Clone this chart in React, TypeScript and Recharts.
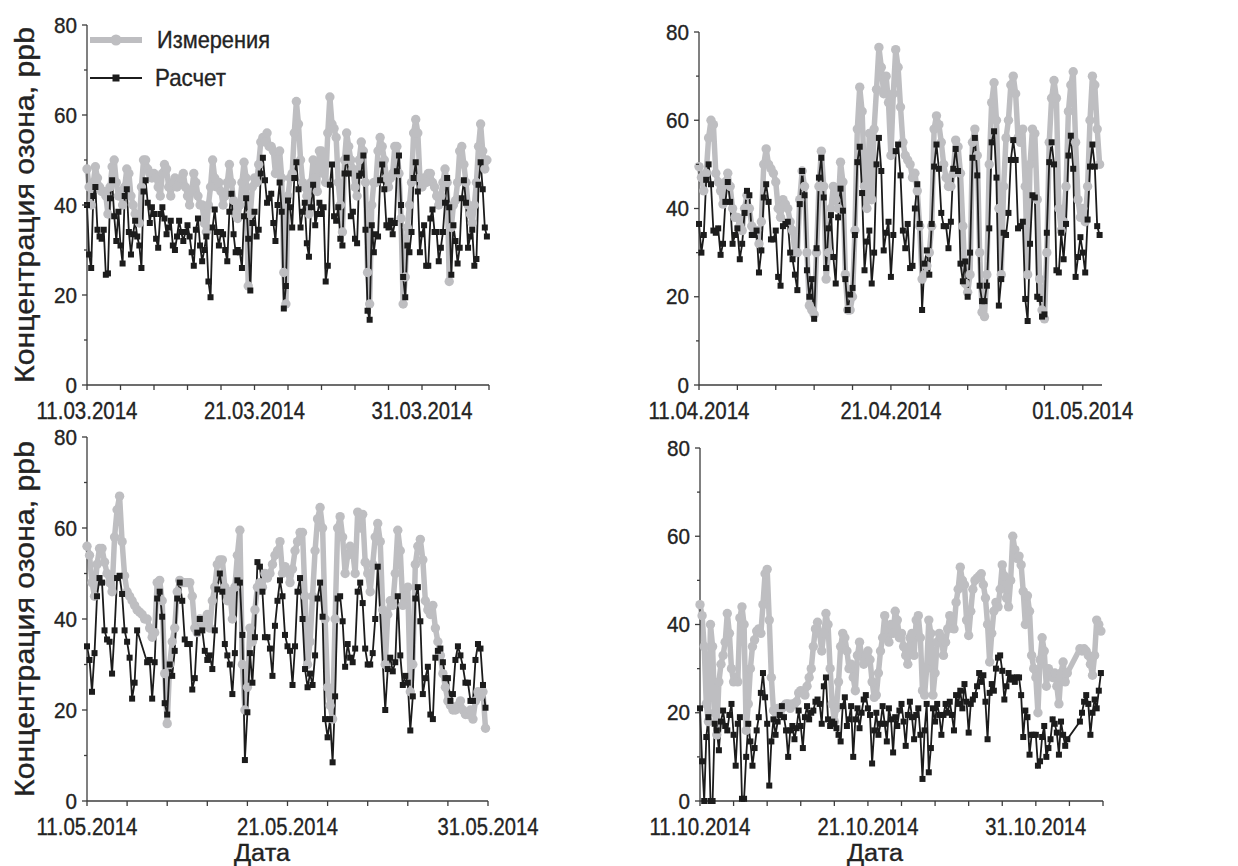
import React from 'react'
import { LineChart, Line, XAxis, YAxis, Legend } from 'recharts'

const FONT = '"Liberation Sans", Arial, Helvetica, sans-serif'
const GREY = '#bebec1'
const BLACK = '#1c1c1c'
const AXIS = '#3c3c3c'
const TEXT = '#232323'

// one value every 3 hours (8 per day)
const STEP = 1 / 8

// ---- 11.03 - 04.04.2014
const marMeasured = [
    48, 44, 40, 45, 48.5, 46, 44, 43,
    43, 42, 38, 44, 48.5, 50, 45, 42,
    43, 40, 44, 48, 47, 42, 40, 38,
    37, 36, 44, 50, 50, 48, 47, 46,
    47, 46, 44, 42, 47, 49, 48, 44,
    42, 45, 46, 44, 45, 46, 47, 44,
    42, 40, 43, 47, 45, 42, 40, 40,
    36, 34, 40, 44, 50, 46, 44, 45,
    43, 40, 42, 45, 49, 45, 41, 38,
    37, 40, 45, 49.5, 46, 22, 38, 44,
    46, 45, 49, 54, 55, 54, 56, 53,
    53, 52, 47, 50, 52, 46, 25, 18,
    42, 46, 47, 56, 63, 58, 50, 45,
    44, 42, 38, 45, 50, 46, 43, 52,
    52, 47, 45, 56, 64, 58, 57, 55,
    45, 40, 34, 50, 56, 53, 50, 48,
    44, 42, 50, 54, 52, 45, 25, 18,
    40, 45, 45, 52, 55, 53, 50, 46,
    44, 46, 47, 53, 53, 47, 37, 18,
    24, 35, 40, 45, 56, 59, 56, 46,
    44, 46, 45, 47, 47, 45, 44, 42,
    40, 42, 45, 48, 45, 23, 35, 40,
    41, 45, 52, 53, 49, 45, 40, 38,
    36, 40, 45, 53, 58, 52, 48, 50,
]
const marCalculated = [
    40, 29, 26, 42, 44, 34.5, 33, 32.5,
    34.5, 24.5, 24.8, 41.5, 45.5, 37.5, 32, 38.5,
    31, 27, 42, 43.5, 34, 29, 33.5, 36.5, 33,
    31, 26, 43, 45.5, 40.5, 36, 39.5, 38,
    32.5, 30.5, 38, 39.5, 37, 33.5, 35, 36.5,
    31, 30, 33, 36.5, 34, 32, 34, 35.5, 33,
    29.5, 26.5, 34.5, 37, 31, 27.5, 30, 33,
    23, 19.5, 35, 39, 34, 31, 34, 33.5,
    30, 27.5, 38.5, 42.5, 33.5, 29.5, 30, 29.5, 26,
    37.5, 41.5, 32.5, 21,
    36, 38.5, 33, 34.5, 47, 50.5, 45.5, 40.5, 41.5, 42.5, 36, 32, 40, 45, 38.5, 17,
    22, 41, 39.5, 35, 46, 49.5, 43.5, 35, 38.5, 40.5, 31.5, 28.5, 39.5, 44.5, 35.5, 38,
    40.5, 38, 39.5, 23, 26.5, 44.5, 49, 37.5, 36.5, 39.5, 32.5, 31, 47, 50.5, 47, 37.5,
    38.5, 32.5, 31.5, 46.5, 47, 51, 34.5, 16.5, 14.5, 35.5, 29.5, 33.5, 33, 45.5, 49, 43.5,
    35.5, 35, 36.5, 33.5, 36, 47.5, 51, 40, 24, 19.5, 31, 29.5, 34, 46, 49.5, 43,
    29.5, 33.5, 35.5, 26.5, 26.5, 37, 39, 34, 34, 27.5, 30.5, 34, 40.5, 46, 39.5, 24.5,
    35.5, 32, 27, 30.5, 41.5, 45.5, 40.5, 30.5, 33, 34.5, 26.5, 28, 44.5, 49.5, 43.5, 35, 33,
]

// ---- 11.04 - 02.05.2014
const aprMeasured = [
    49.5, 47, 44, 48, 56, 60, 59, 48,
    46, 44, 41, 46, 48, 45, 40, 38,
    38, 36, 35, 40, 43, 40, 36, 35,
    35, 32, 37, 50, 53.5, 50, 49, 48,
    46, 40, 38, 42, 41, 40, 37, 35,
    30, 30, 42, 48.5, 45, 30, 18, 17,
    16, 30, 45, 53, 45, 24, 30, 40,
    45, 42, 40, 50.5, 46, 25, 17, 17,
    20, 35, 58, 67.5, 62, 45, 40, 57,
    42, 58, 67, 76.5, 72, 66, 70, 64,
    52, 66, 76, 72, 63, 55, 52, 51,
    50, 47, 48, 44, 36, 24, 25, 27,
    30, 36, 58, 61, 59, 55, 50, 47,
    45, 45, 48, 55.5, 54, 48, 36, 23,
    21, 25, 55, 58, 52, 30, 16.5, 15.5,
    25, 50, 64, 68.5, 60, 40, 25, 45,
    56, 60, 68, 70, 66, 56, 55, 58,
    45, 25, 50, 58, 57, 42, 24, 17,
    15, 30, 55, 65, 69, 65, 40, 35,
    37, 45, 62, 68, 71, 55, 42, 38,
    40, 37, 45, 60, 70, 68, 58, 50,
]
const aprCalculated = [
    36.5, 30, 34, 46.5, 50, 45.5, 35, 34.5,
    35.5, 29.5, 32, 41.5, 46, 41.5, 32, 34,
    35.5, 28.5, 32, 39, 44, 43, 34, 34,
    35, 25.5, 30.5, 42.5, 45.5, 41.5, 33, 33,
    35, 24.5, 22.5, 36, 36.5, 37, 30, 28.5,
    25, 21.5, 41, 48.5, 43, 26, 20, 24,
    15, 31, 47, 51.5, 42.5, 26.5, 35.5, 38.5,
    29, 23, 38, 44.5, 39.5, 24, 17, 20.5,
    22, 34, 50.5, 54, 43.5, 26, 32.5, 35,
    23, 30, 50, 56, 48.5, 30.5, 34.5, 37,
    24.5, 34, 53, 54.5, 47.5, 35, 31, 36.5,
    26.5, 27, 40, 45.5, 36.5, 17, 27.5, 30.5,
    25, 36.5, 49.5, 54.5, 49, 39, 36, 36,
    31, 37, 49, 53.5, 48.5, 27.5, 23.5, 28,
    20, 30, 51.5, 56, 47.5, 22.5, 19, 19,
    22.5, 35.5, 55, 57.5, 47, 18, 24, 34.5,
    34, 39, 51, 55.5, 51, 35.5, 36, 37,
    19.5, 14.5, 32, 43, 42.5, 20, 19.5, 15.5,
    16, 34.5, 50.5, 55, 50, 26, 25.5, 34.5,
    28.5, 36.5, 52, 56.5, 49, 24.5, 29, 33.5,
    30, 25.5, 37.5, 49.5, 54.5, 49.5, 36, 34,
]

// ---- 11.05 - 31.05.2014
const mayMeasured = [
    56, 54, 48, 45, 52, 55.5, 55.5, 52.5,
    50, 48, 46, 58, 64, 67, 57, 49.5,
    46, 45, 44, 43, 42, 41.5, 41, 40,
    40, 38, 36, 37, 48, 48.5, 44, 28,
    17, 30, 35, 38, 46, 48.5, 48, 48,
    48, 48, 45, 38, 37, 40, 39, 40,
    41, 38, 44, 47, 52, 53, 53, 47,
    44, 46, 40, 47, 54, 59.5, 30, 20,
    25, 38, 35, 42, 47, 48, 47, 50,
    49, 50, 52, 54, 55, 57, 50, 51.5,
    50.5, 48, 51, 55, 57, 59, 59, 45,
    30, 35, 45, 55, 62, 64.5, 60, 40,
    25, 21, 18, 40, 60, 62.5, 58, 50,
    54, 56, 55, 50, 63.5, 60, 63, 52.5,
    50, 46, 52, 58, 61, 57, 42, 30,
    41, 44, 43, 50, 59.5, 55, 43, 45,
    47, 24, 30, 52, 56, 57.5, 53, 44,
    42, 41, 43, 38, 35, 32, 28, 25,
    22, 21, 20, 20, 21, 22, 20, 19,
    19, 20, 18, 22, 24, 23, 24, 16,
]
const mayCalculated = [
    34, 31, 24, 32.5, 45, 49, 48, 37.5,
    35.5, 35, 28, 37.5, 49, 49.5, 45.5, 37.5,
    35, 31.5, 22.5, 26, 37.5, null, null, null,
    30.5, 31, 22.5, 30.5, 44.5, 46, 40.5, 21.5,
    19, 30, 27.5, 33, 44.5, 48, 44, 35.5,
    34.5, 34.5, 24.5, 27, 37, 40, 37.5, 33,
    31, 32, 29, 37.5, 46.5, 50, 46, 34.5,
    32, 30, 23.5, 32.5, 48.5, 48, 36.5, 9,
    19.5, 32.5, 26, 36, 52.5, 51.5, 46, 36,
    36, 33.5, 27.5, 38.5, 44, 48.5, 45, 36.5,
    34, 33, 25.5, 34, 46, 49, 40, 29,
    25, 28, 25.5, 32, 44.5, 48, 40.5, 18,
    14, 18, 8.5, 23, 44.5, 45, 39.5, 29.5,
    34.5, 31.5, 30.5, 33.5, 46, 48, 43.5, 33.5,
    30, 30, 32.5, 40, 51.5, null, null, 20,
    29, 31.5, 28.5, 30.5, 45, 32, 25.5, 27.5,
    26, 15.5, 23, 44.5, 47, 39.5, 23.5, 27,
    29.5, 19, 18, 31.5, 33, 33.5, 30.5, 27,
    27, 22, 23.5, 31, 34, 32, 29.5, 26,
    26, 22, 22, 31, 34.5, 33.5, 25.5, 20.5,
]

// ---- 11.10 - 04.11.2014
const octMeasured = [
    44.5, 42, 35, 22, 18, 40, 35, 20,
    15, 27, 31, 33, 36, 42.5, 38, 30,
    27, 28, 27, 41.5, 44, 40, 16, 22,
    30, 35, 36.5, 38.5, 39, 38, 44.5, 51.5,
    52.5, 41, 28, 20.5, 20, 21, 20, 21,
    21.5, 22, 22, 21, 22, 22, 22.5, 24.5,
    25, 24.5, 24, 26, 28, 30, 35, 39,
    40.5, 38, 34, 38, 42.5, 40, 30, 22,
    18, 21, 27, 35, 38, 37, 34, 30,
    31, 28, 25, 33, 36, 33, 31, 33,
    34, 32, 27, 23.5, 24, 29, 34, 37,
    42, 39, 36, 40, 38, 43, 41, 37,
    38, 35, 33, 31, 37, 38, 33, 41,
    42, 37, 25, 24, 30, 41, 38, 24,
    29, 36, 38, 37, 33, 36, 39, 42,
    41, 39, 45, 48, 53, 50, 49, 41,
    37.5, 43, 48, 50, 50.5, 51, 51.5, 49,
    46, 40, 31.5, 38, 43, 45, 44, 48,
    53.5, 51, 46, 44, 50, 60, 57, 55,
    55.5, 53.5, 47.5, 40, 46.5, 43, 33, 30,
    28, 20, 32, 37, 34, 26, 30, 29,
    28, 29, 26, 22, 29, 31.5, 27, 29,
    null, null, null, null, null, 34.5, 34, 34.5,
    34, 33, 31, 28.5, 33, 41, 40, 38.5,
]
const octCalculated = [
    21, 9, 0, 14.5, 19, 0, 0, 17.5, 16, 11.5, 18, 20.5, 17,
    16, 19.5, 22, 15, 8, 17.5, 19, 0.5, 0.5, 10, 17.5, 13.5, 8, 12,
    16, 19, 24.5, 29, 23.5, 17.5, 3.5, 13.5, 18.5, 15, 18, 19.5, 21.5, 19,
    16, 10, 16, 17, 14, 16.5, 20.5, 17, 12, 19, 21.5, 18.5, 20,
    20.5, 22.5, 23, 22, 17.5, 26, 28, 18.5, 17, 18, 17.5, 16.5, 15,
    13.5, 21.5, 23.5, 17, 18.5, 21.5, 10, 18.5, 21, 16.5, 20, 23, 24, 21,
    19.5, 8.5, 16, 20, 15, 17.5, 21.5, 17.5, 13.5, 21, 18.5, 11, 19, 17,
    20.5, 22, 18, 12.5, 19.5, 22.5, 19, 14, 19.5, 21, 15, 5, 16, 22, 6.5, 12, 21, 18,
    22, 19.5, 15, 19.5, 22, 20, 22.5, 19.5, 16, 24, 22,
    25, 21, 26.5, 22.5, 15.5, 22, 23, 24, 26, 29, 27,
    28.5, 22.5, 14, 24.5, 26.5, 25, 30, 32.5, 33, 29.5, 23, 26, 29, 27.5, 28, 27,
    28, 28, 24, 14.5, 20.5, 19, 10.5, 15, 15, 15, 8, 9, 14.5, 17, 10, 12,
    14, 18.5, 17.5, 15.5, 10.5, 18, 15, 12.5, 14,
    null, null, null, null, null,
    18, 20, 22.5, 24, 22, 15, 20, 23, 21, 25, 29,
]

const yTickValues = [0, 10, 20, 30, 40, 50, 60, 70, 80]

const marLabels = ['11.03.2014', '21.03.2014', '31.03.2014']
const aprLabels = ['11.04.2014', '21.04.2014', '01.05.2014']
const mayLabels = ['11.05.2014', '21.05.2014', '31.05.2014']
const octLabels = ['11.10.2014', '21.10.2014', '31.10.2014']

const seriesNames = ['Измерения', 'Расчет']
const yTitle = 'Концентрация озона, ppb'
const xTitle = 'Дата'

type Rect = { x: number, y: number, w: number, h: number }

// text in the scan is a little heavier than a plain regular face
const ink = { fill: TEXT, stroke: TEXT, strokeWidth: 0.35, fontFamily: FONT }

const GreyDot = (p: any) => {
    if (p.cx == null || p.cy == null || Number.isNaN(p.cy)) return <g key={p.key} />
    return <circle key={p.key} cx={p.cx} cy={p.cy} r={4.7} fill={GREY} />
}

const SquareDot = (p: any) => {
    if (p.cx == null || p.cy == null || Number.isNaN(p.cy)) return <g key={p.key} />
    return <rect key={p.key} x={p.cx - 3} y={p.cy - 3} width={6} height={6} fill={BLACK} />
}

const YTick = (p: any) => {
    const v = p.payload.value
    const major = v % 20 === 0
    return (
        <g>
            <line x1={p.x - (major ? 5 : 3)} y1={p.y} x2={p.x} y2={p.y} stroke={AXIS} strokeWidth={1.3} />
            {major && (
                <text x={p.x - 10} y={p.y} dy='0.35em' textAnchor='end' fontSize={22} {...ink}
                    textLength={String(v).length * 11.5} lengthAdjust='spacingAndGlyphs'>{v}</text>
            )}
        </g>
    )
}

const makeXTick = (labels: string[]) => (p: any) => {
    const d = p.payload.value
    const label = d % 10 === 0 ? labels[d / 10] : ''
    return (
        <g>
            <line x1={p.x} y1={p.y} x2={p.x} y2={p.y + 5} stroke={AXIS} strokeWidth={1.3} />
            {label && (
                <text x={p.x} y={p.y + 26} dy='0.35em' textAnchor='middle' fontSize={23} {...ink}
                    textLength={101} lengthAdjust='spacingAndGlyphs'>{label}</text>
            )}
        </g>
    )
}

const LegendBox = () => (
    <svg width={200} height={70}>
        <line x1={5} y1={15} x2={57} y2={15} stroke={GREY} strokeWidth={6} />
        <circle cx={31} cy={15} r={5.5} fill={GREY} />
        <text x={72} y={15} dy='0.35em' fontSize={24} {...ink} textLength={113} lengthAdjust='spacingAndGlyphs'>{seriesNames[0]}</text>
        <line x1={5} y1={53} x2={57} y2={53} stroke={BLACK} strokeWidth={1.8} />
        <rect x={27.5} y={49.5} width={7} height={7} fill={BLACK} />
        <text x={70} y={53} dy='0.35em' fontSize={24} {...ink} textLength={71} lengthAdjust='spacingAndGlyphs'>{seriesNames[1]}</text>
    </svg>
)

const Panel = (props: {
    box: Rect, plot: Rect, days: number,
    measured: (number | null)[], calculated: (number | null)[], labels: string[],
    yTitleAt?: number, xTitleAt?: number, legend?: boolean
}) => {
    const { box, plot, days } = props
    const yAxisW = 50
    const xAxisH = box.y + box.h - (plot.y + plot.h)
    const margin = { top: plot.y - box.y, left: plot.x - box.x - yAxisW, right: box.x + box.w - plot.x - plot.w, bottom: 0 }

    const n = Math.max(props.measured.length, props.calculated.length)
    const data = Array.from({ length: n }, (_, i) => ({
        t: i * STEP,
        m: props.measured[i] ?? null,
        c: props.calculated[i] ?? null,
    }))
    const xTicks: number[] = []
    for (let d = 0; d <= days; d += 2) xTicks.push(d)

    const yTitleLabel = props.yTitleAt !== undefined ? () => (
        <text transform={`translate(${props.yTitleAt! - box.x},${plot.y + plot.h / 2 - box.y}) rotate(-90)`} dy='0.35em'
            textAnchor='middle' fontSize={28} {...ink} textLength={356} lengthAdjust='spacingAndGlyphs'>{yTitle}</text>
    ) : undefined
    const xTitleLabel = props.xTitleAt !== undefined ? () => (
        <text x={props.xTitleAt! - box.x} y={853 - box.y} dy='0.35em' textAnchor='middle' fontSize={23} {...ink}
            textLength={56} lengthAdjust='spacingAndGlyphs'>{xTitle}</text>
    ) : undefined

    return (
        <div style={{ position: 'absolute', left: box.x, top: box.y }}>
            <LineChart width={box.w} height={box.h} data={data} margin={margin}>
                <XAxis type='number' dataKey='t' domain={[0, days]} ticks={xTicks} interval={0} height={xAxisH}
                    tickSize={0} tickMargin={0} tickLine={false} axisLine={{ stroke: AXIS, strokeWidth: 1.3 }}
                    tick={makeXTick(props.labels)} label={xTitleLabel} />
                <YAxis type='number' domain={[0, 80]} ticks={yTickValues} interval={0} width={yAxisW}
                    tickSize={0} tickMargin={0} tickLine={false} axisLine={{ stroke: AXIS, strokeWidth: 1.3 }}
                    tick={YTick} label={yTitleLabel} />
                {props.legend && (
                    <Legend layout='vertical' align='center' verticalAlign='middle'
                        wrapperStyle={{ left: 85, top: 25, width: 200, height: 70 }} content={() => <LegendBox />} />
                )}
                <Line type='linear' dataKey='m' name={seriesNames[0]} stroke={GREY} strokeWidth={5.5} strokeLinejoin='round'
                    dot={GreyDot} activeDot={false} connectNulls isAnimationActive={false} />
                <Line type='linear' dataKey='c' name={seriesNames[1]} stroke={BLACK} strokeWidth={1.8}
                    dot={SquareDot} activeDot={false} connectNulls isAnimationActive={false} />
            </LineChart>
        </div>
    )
}

export default function App() {
    return (
        <div style={{ position: 'absolute', left: 0, top: 0, width: 1238, height: 866, background: '#fff' }}>
            <Panel box={{ x: 0, y: 0, w: 615, h: 430 }} plot={{ x: 87, y: 25, w: 402, h: 360 }} days={24}
                measured={marMeasured} calculated={marCalculated} labels={marLabels} yTitleAt={24} legend />
            <Panel box={{ x: 620, y: 0, w: 618, h: 430 }} plot={{ x: 699, y: 32, w: 403, h: 353 }} days={21}
                measured={aprMeasured} calculated={aprCalculated} labels={aprLabels} />
            <Panel box={{ x: 0, y: 420, w: 615, h: 446 }} plot={{ x: 87, y: 437, w: 401, h: 364 }} days={20}
                measured={mayMeasured} calculated={mayCalculated} labels={mayLabels} yTitleAt={24} xTitleAt={262} />
            <Panel box={{ x: 620, y: 420, w: 618, h: 446 }} plot={{ x: 700, y: 448, w: 403, h: 353 }} days={24}
                measured={octMeasured} calculated={octCalculated} labels={octLabels} xTitleAt={875} />
        </div>
    )
}
